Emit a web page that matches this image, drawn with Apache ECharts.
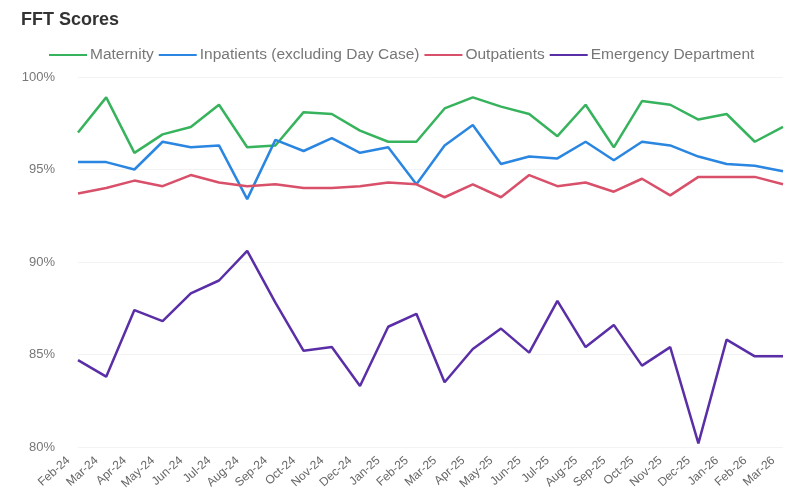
<!DOCTYPE html>
<html>
<head>
<meta charset="utf-8">
<script src="https://cdn.jsdelivr.net/npm/echarts@6/dist/echarts.min.js"></script>
<style>
  html, body { margin: 0; padding: 0; background: #fff; }
  #chart { width: 795px; height: 488px; }
</style>
</head>
<body>
<div id="chart"></div>
<script>
// Monthly Friends and Family Test scores (% positive)
const months = [
  'Feb-24', 'Mar-24', 'Apr-24', 'May-24', 'Jun-24', 'Jul-24', 'Aug-24', 'Sep-24',
  'Oct-24', 'Nov-24', 'Dec-24', 'Jan-25', 'Feb-25', 'Mar-25', 'Apr-25', 'May-25',
  'Jun-25', 'Jul-25', 'Aug-25', 'Sep-25', 'Oct-25', 'Nov-25', 'Dec-25', 'Jan-26',
  'Feb-26', 'Mar-26'
];

const maternity = [
  97.0, 98.9, 95.9, 96.9, 97.3, 98.5, 96.2, 96.3, 98.1, 98.0, 97.1, 96.5, 96.5,
  98.3, 98.9, 98.4, 98.0, 96.8, 98.5, 96.2, 98.7, 98.5, 97.7, 98.0, 96.5, 97.3
];
const inpatients = [
  95.4, 95.4, 95.0, 96.5, 96.2, 96.3, 93.4, 96.6, 96.0, 96.7, 95.9, 96.2, 94.2,
  96.3, 97.4, 95.3, 95.7, 95.6, 96.5, 95.5, 96.5, 96.3, 95.7, 95.3, 95.2, 94.9
];
const outpatients = [
  93.7, 94.0, 94.4, 94.1, 94.7, 94.3, 94.1, 94.2, 94.0, 94.0, 94.1, 94.3, 94.2,
  93.5, 94.2, 93.5, 94.7, 94.1, 94.3, 93.8, 94.5, 93.6, 94.6, 94.6, 94.6, 94.2
];
const emergency = [
  84.7, 83.8, 87.4, 86.8, 88.3, 89.0, 90.6, 87.8, 85.2, 85.4, 83.3, 86.5, 87.2,
  83.5, 85.3, 86.4, 85.1, 87.9, 85.4, 86.6, 84.4, 85.4, 80.2, 85.8, 84.9, 84.9
];

const yTicks = [80, 85, 90, 95, 100];

const seriesDefs = [
  { name: 'Maternity', data: maternity, color: '#36b35c' },
  { name: 'Inpatients (excluding Day Case)', data: inpatients, color: '#2a86e0' },
  { name: 'Outpatients', data: outpatients, color: '#d9506a' },
  { name: 'Emergency Department', data: emergency, color: '#5a2ea6' }
];

const FONT = '"Liberation Sans", Arial, sans-serif';

const chart = echarts.init(document.getElementById('chart'), null, { renderer: 'canvas' });

chart.setOption({
  animation: false,
  backgroundColor: '#ffffff',
  textStyle: { fontFamily: FONT },
  title: {
    text: 'FFT Scores',
    left: 16,
    top: 6,
    textStyle: { fontSize: 18, fontWeight: 'bold', color: '#333333', fontFamily: FONT }
  },
  legend: {
    top: 42,
    left: 44,
    icon: 'path://M0,0 L38,0 L38,2 L0,2 Z',
    itemWidth: 38,
    itemHeight: 2,
    itemGap: 5,
    textStyle: { color: '#777777', fontSize: 15.5, fontFamily: FONT, padding: [0, 0, 0, -2] },
    data: seriesDefs.map(s => s.name)
  },
  grid: {
    left: 78, right: 12, top: 77, bottom: 41,
    containLabel: false,
    outerBoundsMode: 'none'
  },
  xAxis: {
    type: 'category',
    boundaryGap: false,
    data: months,
    axisLine: { show: false },
    axisTick: { show: false },
    axisLabel: {
      rotate: 42,
      interval: 0,
      color: '#666666',
      fontSize: 12,
      fontFamily: FONT,
      margin: 3,
      padding: [0, 13, 0, 0]
    },
    splitLine: { show: false }
  },
  yAxis: {
    type: 'value',
    min: 80,
    max: 100,
    interval: 5,
    axisLine: { show: false },
    axisTick: { show: false },
    axisLabel: {
      color: '#777777',
      fontSize: 13,
      fontFamily: FONT,
      margin: 23,
      formatter: v => (yTicks.includes(v) ? v + '%' : '')
    },
    splitLine: { lineStyle: { color: '#f3f3f3', width: 1 } }
  },
  series: seriesDefs.map(s => ({
    name: s.name,
    type: 'line',
    data: s.data,
    symbol: 'none',
    color: s.color,
    lineStyle: { width: 2.5, color: s.color }
  }))
});
</script>
</body>
</html>
